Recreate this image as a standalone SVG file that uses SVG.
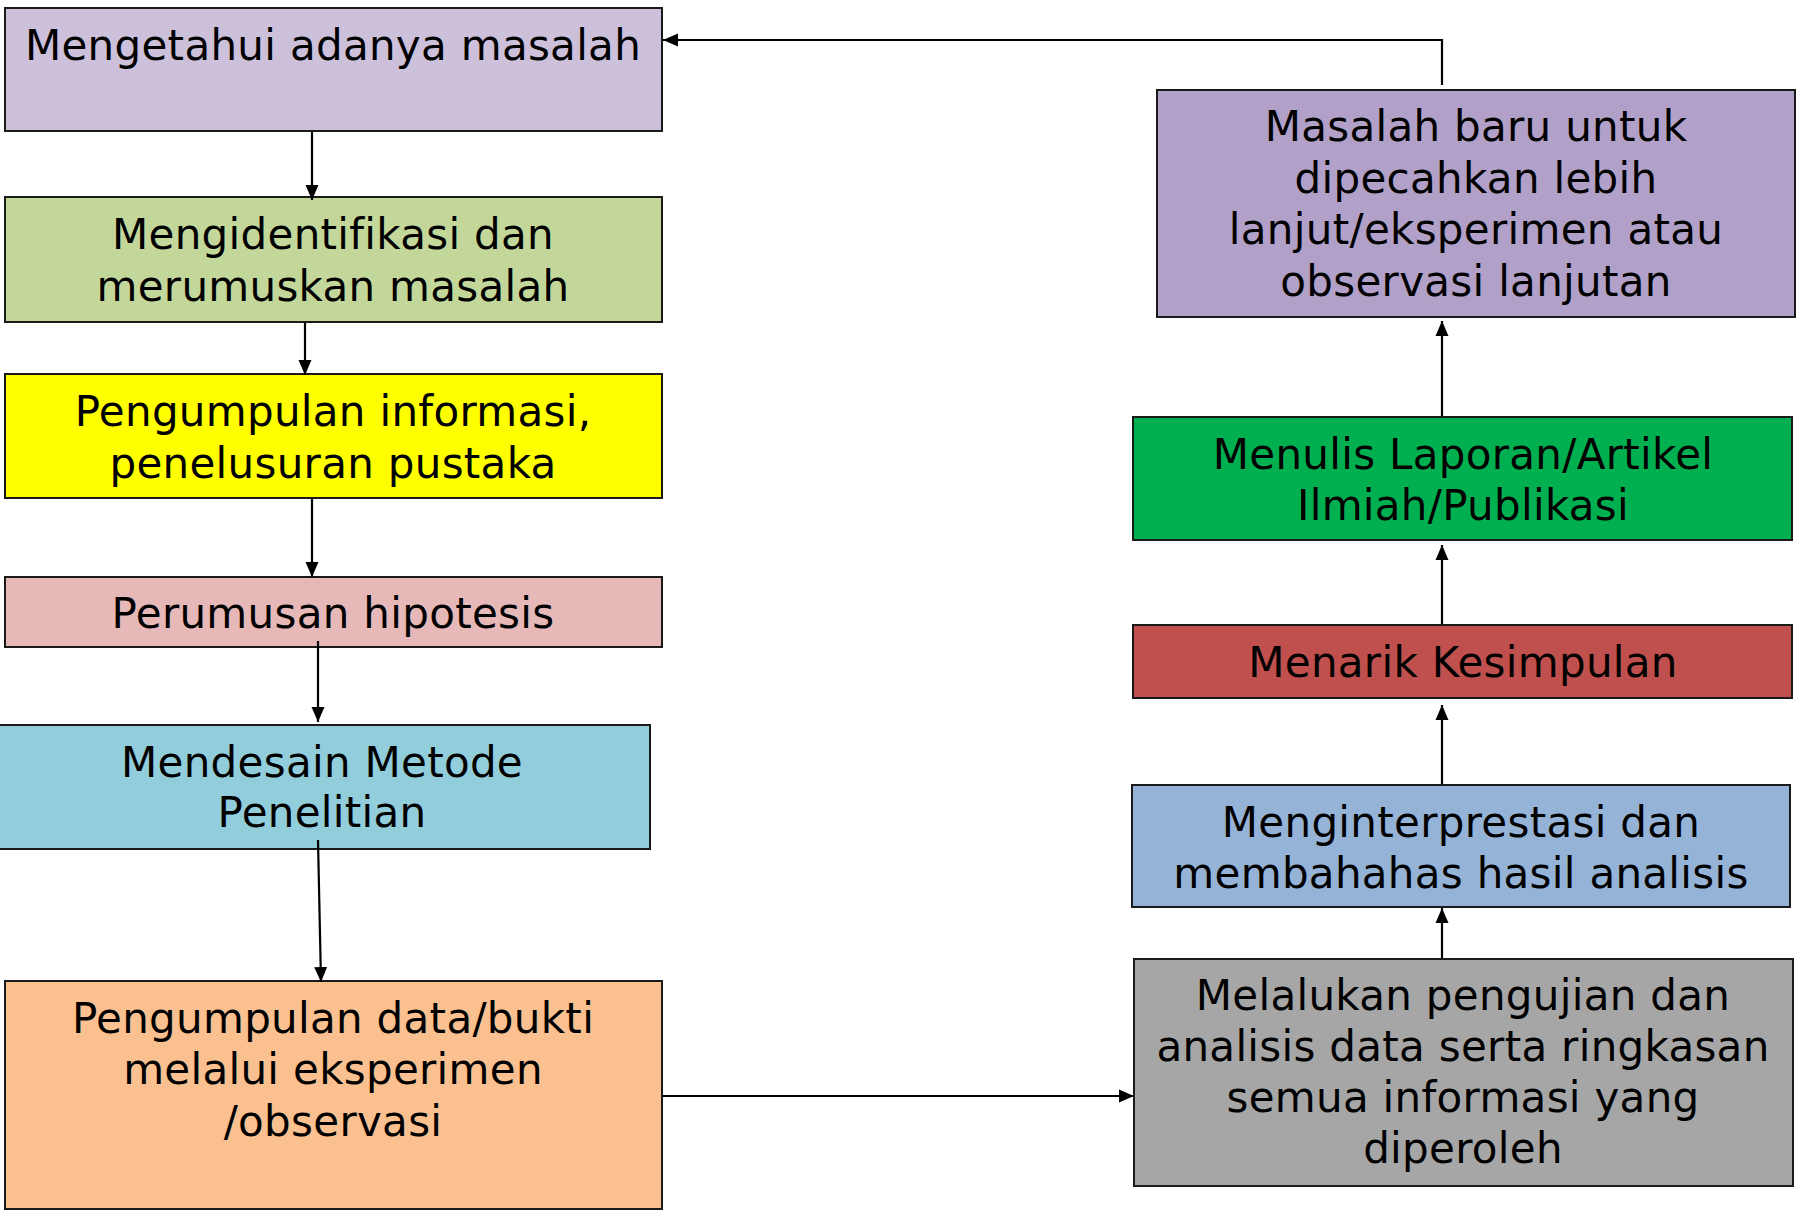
<svg xmlns="http://www.w3.org/2000/svg" width="1796" height="1211" viewBox="0 0 1796 1211">
<style>
.box{stroke:#1a1a1a;stroke-width:2}
.t{font-family:"DejaVu Sans","Verdana",sans-serif;font-size:42px;fill:#000;text-anchor:middle;letter-spacing:0.3px}
.c{fill:none;stroke:#000;stroke-width:2.2}
</style>
<defs>
<marker id="ah" markerUnits="userSpaceOnUse" markerWidth="16" markerHeight="14" refX="15" refY="7" orient="auto">
<path d="M0,0.5 L15,7 L0,13.5 z" fill="#000"/>
</marker>
</defs>
<rect width="1796" height="1211" fill="#fff"/>
<g id="n1"><rect class="box" x="5" y="8" width="657" height="123" fill="#CCC0DA"/><text class="t" x="333" y="60">Mengetahui adanya masalah</text></g>
<g id="n2"><rect class="box" x="5" y="197" width="657" height="125" fill="#C4D79B"/><text class="t" x="333" y="249">Mengidentifikasi dan</text><text class="t" x="333" y="301">merumuskan masalah</text></g>
<g id="n3"><rect class="box" x="5" y="374" width="657" height="124" fill="#FFFF00"/><text class="t" x="333" y="426">Pengumpulan informasi,</text><text class="t" x="333" y="478">penelusuran pustaka</text></g>
<g id="n4"><rect class="box" x="5" y="577" width="657" height="70" fill="#E6B8B7"/><text class="t" x="333" y="628">Perumusan hipotesis</text></g>
<g id="n5"><rect class="box" x="-2" y="725" width="652" height="124" fill="#92CDDC"/><text class="t" x="322" y="777">Mendesain Metode</text><text class="t" x="322" y="827">Penelitian</text></g>
<g id="n6"><rect class="box" x="5" y="981" width="657" height="228" fill="#FAC090"/><text class="t" x="333" y="1033">Pengumpulan data/bukti</text><text class="t" x="333" y="1084">melalui eksperimen</text><text class="t" x="333" y="1136">/observasi</text></g>
<g id="n7"><rect class="box" x="1134" y="959" width="659" height="227" fill="#A6A6A6"/><text class="t" x="1463" y="1010">Melalukan pengujian dan</text><text class="t" x="1463" y="1061">analisis data serta ringkasan</text><text class="t" x="1463" y="1112">semua informasi yang</text><text class="t" x="1463" y="1163">diperoleh</text></g>
<g id="n8"><rect class="box" x="1132" y="785" width="658" height="122" fill="#95B3D7"/><text class="t" x="1461" y="837">Menginterprestasi dan</text><text class="t" x="1461" y="888">membahahas hasil analisis</text></g>
<g id="n9"><rect class="box" x="1133" y="625" width="659" height="73" fill="#C0504D"/><text class="t" x="1463" y="677">Menarik Kesimpulan</text></g>
<g id="n10"><rect class="box" x="1133" y="417" width="659" height="123" fill="#00B050"/><text class="t" x="1463" y="469">Menulis Laporan/Artikel</text><text class="t" x="1463" y="520">Ilmiah/Publikasi</text></g>
<g id="n11"><rect class="box" x="1157" y="90" width="638" height="227" fill="#B1A0C7"/><text class="t" x="1476" y="141">Masalah baru untuk</text><text class="t" x="1476" y="193">dipecahkan lebih</text><text class="t" x="1476" y="244">lanjut/eksperimen atau</text><text class="t" x="1476" y="296">observasi lanjutan</text></g>
<g id="connectors">
<line class="c" x1="312" y1="132" x2="312" y2="200" marker-end="url(#ah)"/>
<line class="c" x1="305" y1="323" x2="305" y2="375" marker-end="url(#ah)"/>
<line class="c" x1="312" y1="499" x2="312" y2="577" marker-end="url(#ah)"/>
<line class="c" x1="318" y1="641" x2="318" y2="722" marker-end="url(#ah)"/>
<line class="c" x1="318" y1="840" x2="321" y2="982" marker-end="url(#ah)"/>
<line class="c" x1="663" y1="1096" x2="1134" y2="1096" marker-end="url(#ah)"/>
<line class="c" x1="1442" y1="958" x2="1442" y2="908" marker-end="url(#ah)"/>
<line class="c" x1="1442" y1="784" x2="1442" y2="705" marker-end="url(#ah)"/>
<line class="c" x1="1442" y1="624" x2="1442" y2="545" marker-end="url(#ah)"/>
<line class="c" x1="1442" y1="416" x2="1442" y2="321" marker-end="url(#ah)"/>
<polyline class="c" points="1442,85 1442,40 663,40" marker-end="url(#ah)"/>
</g>
</svg>
